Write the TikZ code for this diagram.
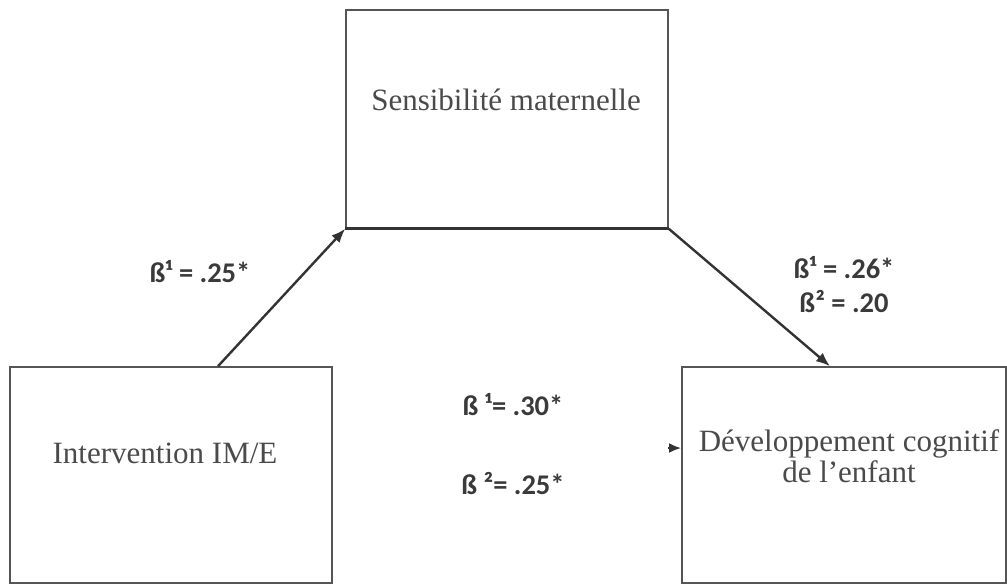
\documentclass[tikz,border=0pt]{standalone}
\usepackage{fontspec}
\setmainfont{Liberation Serif}
\newfontfamily\labelfont{Carlito}
\usetikzlibrary{arrows.meta}
\definecolor{boxline}{HTML}{555555}
\definecolor{boxtext}{HTML}{4A4A4A}
\definecolor{arrowcol}{HTML}{333333}
\definecolor{coef}{HTML}{3A3A3A}
\begin{document}
\begin{tikzpicture}[x=1pt,y=-1pt,
  varbox/.style={draw=boxline,line width=1.6pt,rectangle,inner sep=0pt,
                 minimum width=#1,minimum height=216pt},
  boxlabel/.style={text=boxtext,font=\fontsize{31}{31}\selectfont,align=center,inner sep=0pt},
  coeflabel/.style={text=coef,font=\labelfont\bfseries\fontsize{28.5}{34}\selectfont,align=center,inner sep=0pt},
  path arrow/.style={draw=arrowcol,line width=2.4pt,-{Latex[length=14pt,width=11pt]}}]
  \useasboundingbox (0,0) rectangle (1007,584);

  % the three variables
  \node[varbox=322pt,minimum height=218pt] (sens) at (507,119) {};
  \node[varbox=322pt] (interv) at (171,475) {};
  \node[varbox=324pt] (dev) at (844,475) {};
  \draw[arrowcol,line width=2.8pt] (sens.south west) -- (sens.south east);

  \node[boxlabel] (senstxt) at (506,100) {Sensibilité maternelle};
  \node[boxlabel] (intervtxt) at (165,453) {Intervention IM/E};
  \node[boxlabel] (devtxt) at (849,456) {Développement cognitif\\de l’enfant};

  % paths
  \draw[path arrow] ([xshift=47pt]interv.north) -- (sens.south west);
  \draw[path arrow] (sens.south east) -- ([xshift=-14pt]dev.north);
  \coordinate (direct) at (668,448);
  \draw[path arrow,-{Latex[length=12pt,width=10pt]}] (direct) -- ([yshift=27pt]dev.west);

  % coefficients
  \node[coeflabel] (c1) at (200,272) {ß¹ = .25*};
  \node[coeflabel] (c2) at (844,285) {ß¹ = .26*\\ß² = .20};
  \node[coeflabel] (c3) at (513,405) {ß ¹= .30*};
  \node[coeflabel] (c4) at (513,484) {ß ²= .25*};
\end{tikzpicture}
\end{document}
